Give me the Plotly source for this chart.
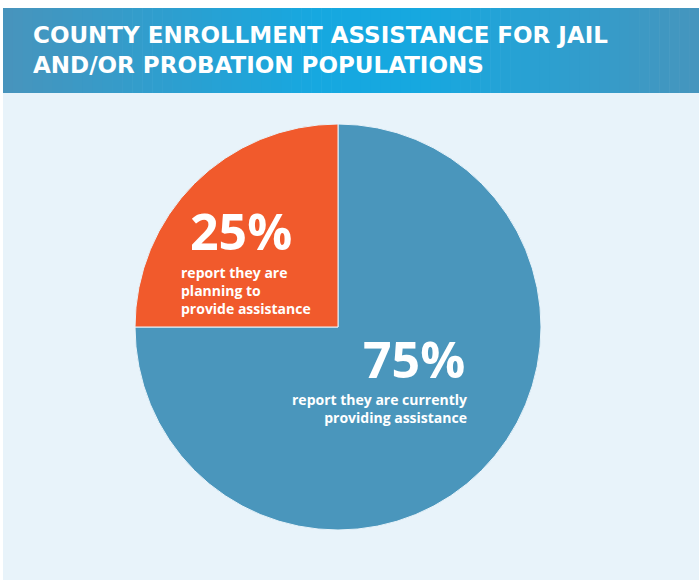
import plotly.graph_objects as go

labels = ["Currently providing assistance", "Planning to provide assistance"]
values = [75, 25]
colors = ["#4A96BC", "#F15A2C"]
title_lines = ["COUNTY ENROLLMENT ASSISTANCE FOR JAIL", "AND/OR PROBATION POPULATIONS"]
pct_labels = ["75%", "25%"]
planning_lines = ["report they are", "planning to", "provide assistance"]
current_lines = ["report they are currently", "providing assistance"]

W, H = 699, 580

def px(x):
    return x / W

def py(y):
    return 1 - y / H

fig = go.Figure()
cx, cy, r = 338, 327, 203
fig.add_trace(go.Pie(
    labels=labels, values=values, sort=False, direction="clockwise", rotation=0,
    marker=dict(colors=colors, line=dict(color="#E8F3FA", width=1)),
    textinfo="none", hoverinfo="label+percent", showlegend=False,
    domain=dict(x=[px(cx - r), px(cx + r)], y=[py(cy + r), py(cy - r)]),
))

shapes = []
shapes.append(dict(type="rect", xref="paper", yref="paper", x0=px(3), x1=1, y0=0, y1=py(8),
                   fillcolor="#E8F3FA", line=dict(width=0), layer="below"))
def lerp(a, b, t):
    return tuple(int(round(a[i] + (b[i] - a[i]) * t)) for i in range(3))
left = (0x48, 0x94, 0xBC)
mid = (0x16, 0xA8, 0xE0)
right = (0x46, 0x95, 0xBD)
n = 70
x_start, x_end = 3, 699
for i in range(n):
    x0 = x_start + (x_end - x_start) * i / n
    x1 = x_start + (x_end - x_start) * (i + 1) / n + 0.6
    t = (i + 0.5) / n
    if t < 0.45:
        c = lerp(left, mid, t / 0.45)
    elif t < 0.6:
        c = mid
    else:
        c = lerp(mid, right, (t - 0.6) / 0.4)
    shapes.append(dict(type="rect", xref="paper", yref="paper", x0=px(x0), x1=px(min(x1, 699)),
                       y0=py(93), y1=py(8), fillcolor="rgb(%d,%d,%d)" % c, line=dict(width=0), layer="below"))

font_title = "'DejaVu Sans', sans-serif"
font_main = "'Open Sans', Lato, sans-serif"
annotations = []
annotations.append(dict(text="<b>" + "<br>".join(title_lines) + "</b>", x=px(31), y=py(50),
                        xref="paper", yref="paper", xanchor="left", yanchor="middle", align="left",
                        showarrow=False, font=dict(family=font_title, size=23, color="white")))
annotations.append(dict(text="<b>%s</b>" % pct_labels[1], x=px(241), y=py(231), xref="paper", yref="paper",
                        xanchor="center", yanchor="middle", showarrow=False,
                        font=dict(family=font_main, size=50, color="white")))
annotations.append(dict(text="<b>" + "<br>".join(planning_lines) + "</b>", x=px(179), y=py(290),
                        xref="paper", yref="paper", xanchor="left", yanchor="middle", align="left",
                        showarrow=False, font=dict(family=font_main, size=14, color="white")))
annotations.append(dict(text="<b>%s</b>" % pct_labels[0], x=px(467), y=py(359), xref="paper", yref="paper",
                        xanchor="right", yanchor="middle", showarrow=False,
                        font=dict(family=font_main, size=50, color="white")))
annotations.append(dict(text="<b>" + "<br>".join(current_lines) + "</b>", x=px(469), y=py(408),
                        xref="paper", yref="paper", xanchor="right", yanchor="middle", align="right",
                        showarrow=False, font=dict(family=font_main, size=14, color="white")))

fig.update_layout(
    width=W, height=H, margin=dict(l=0, r=0, t=0, b=0),
    paper_bgcolor="white", plot_bgcolor="white",
    shapes=shapes, annotations=annotations,
)
fig.write_html("out.html", config={"displayModeBar": False},
               post_script="document.body.style.margin='0';document.body.style.overflow='hidden';")
